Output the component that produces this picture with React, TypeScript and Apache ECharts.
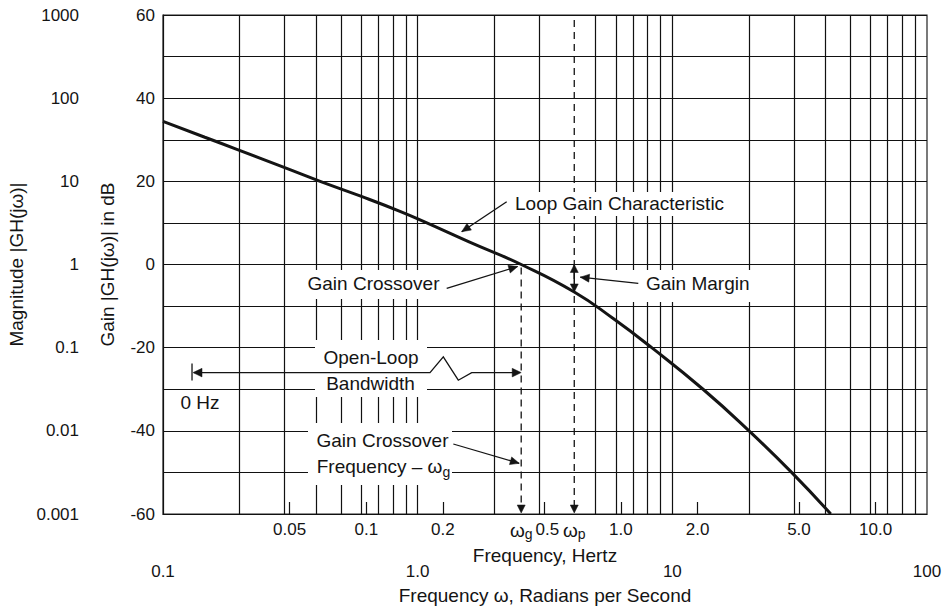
import React, { useEffect, useRef } from 'react';
import * as echarts from 'echarts';

const FONT = '"Liberation Sans", Arial, Helvetica, sans-serif';
const INK = '#141414';
const GRID_INK = '#111111';
const TWO_PI = 2 * Math.PI;

// Loop gain characteristic (frequency in rad/s, gain in dB)
const omega = [0.1, 0.146, 0.195, 0.306, 0.414, 0.594, 0.852, 1.07, 1.6, 2.55, 4.12, 5.86, 8.3, 13.2, 20.0, 29.4, 41.9];
const gainDb = [34.4, 30.6, 27.7, 23.1, 20.0, 16.5, 12.8, 10.2, 5.4, 0, -6.6, -13.0, -20, -30, -40, -50, -60];

// Marked frequencies
const omegaG = 2.55; // gain crossover
const omegaP = 4.12; // phase crossover
const gainMarginDb = -6.6;
const bandwidthStartOmega = 0.13;
const bandwidthDb = -26;

// Axes
const radGridValues = [0.2, 0.3, 0.4, 0.5, 0.6, 0.7, 0.8, 0.9, 1, 2, 3, 5, 6, 7, 8, 9, 10, 20, 30, 40, 50, 60, 70, 80, 90];
const radLabelValues = [0.1, 1, 10, 100];
const radLabelTexts = ['0.1', '1.0', '10', '100'];
const hzTickValues = [0.05, 0.1, 0.2, 0.5, 1, 2, 5, 10];
const hzTickLabels = ['0.05', '0.1', '0.2', '0.5', '1.0', '2.0', '5.0', '10.0'];
const dbTicks = [60, 40, 20, 0, -20, -40, -60];
const dbLabels = ['60', '40', '20', '0', '-20', '-40', '-60'];
const magnitudeLabels = ['1000', '100', '10', '1', '0.1', '0.01', '0.001'];

const near = (a: number, b: number) => Math.abs(a - b) <= Math.abs(b) * 1e-4;

function buildOption(): any {
  return {
    animation: false,
    backgroundColor: '#ffffff',
    textStyle: { fontFamily: FONT, color: INK },
    grid: {
      left: 163, right: 16, top: 15, bottom: 98,
      show: true, borderColor: '#222', borderWidth: 1.2, backgroundColor: 'transparent',
      containLabel: false, outerBoundsMode: 'none',
    },
    xAxis: [
      {
        type: 'log', logBase: 10, min: 0.1, max: 100, position: 'bottom', gridIndex: 0,
        axisLine: { show: true, onZero: false, lineStyle: { color: GRID_INK, width: 1.2 } },
        axisTick: { show: false, customValues: radGridValues },
        splitLine: { show: true, lineStyle: { color: GRID_INK, width: 1.2 } },
        minorTick: { show: false }, minorSplitLine: { show: false },
        axisLabel: {
          customValues: radLabelValues, margin: 49, fontSize: 17, color: INK, fontFamily: FONT,
          formatter: (v: number) => {
            const i = radLabelValues.findIndex((t) => near(v, t));
            return i >= 0 ? radLabelTexts[i] : '';
          },
        },
        name: 'Frequency \u03c9, Radians per Second', nameLocation: 'middle', nameGap: 72,
        nameTextStyle: { fontSize: 19, color: INK, fontFamily: FONT },
      },
      {
        type: 'log', logBase: 10, min: 0.1 / TWO_PI, max: 100 / TWO_PI, position: 'bottom', gridIndex: 0,
        axisLine: { show: false, onZero: false },
        axisTick: { show: true, inside: true, length: 12, customValues: hzTickValues, lineStyle: { color: GRID_INK, width: 1.2 } },
        splitLine: { show: false },
        minorTick: { show: false }, minorSplitLine: { show: false },
        axisLabel: {
          customValues: [0.05, 0.1, 0.2, omegaG / TWO_PI, 0.5, omegaP / TWO_PI, 1, 2, 5, 10],
          margin: 7, fontSize: 17, color: INK, fontFamily: FONT,
          formatter: (v: number) => {
            if (near(v, omegaG / TWO_PI)) return '{w|\u03c9}{s|g}';
            if (near(v, omegaP / TWO_PI)) return '{w|\u03c9}{s|p}';
            const i = hzTickValues.findIndex((t) => near(v, t));
            if (i < 0) return '';
            return near(v, 0.5) ? '{r|' + hzTickLabels[i] + '}' : hzTickLabels[i];
          },
          rich: {
            w: { fontSize: 19, lineHeight: 10, verticalAlign: 'top', color: INK, fontFamily: FONT },
            s: { fontSize: 14, lineHeight: 20, verticalAlign: 'bottom', color: INK, fontFamily: FONT },
            r: { fontSize: 17, padding: [0, 0, 0, 6], color: INK, fontFamily: FONT },
          },
        },
        name: 'Frequency, Hertz', nameLocation: 'middle', nameGap: 27.5,
        nameTextStyle: { fontSize: 19, color: INK, fontFamily: FONT },
      },
    ],
    yAxis: [
      {
        type: 'value', min: -60, max: 60, interval: 10, position: 'left', gridIndex: 0,
        axisLine: { show: true, onZero: false, lineStyle: { color: GRID_INK, width: 1.2 } },
        axisTick: { show: false },
        splitLine: { show: true, lineStyle: { color: GRID_INK, width: 1.2 } },
        axisLabel: {
          margin: 8, fontSize: 17, color: INK, fontFamily: FONT,
          formatter: (v: number) => {
            const i = dbTicks.indexOf(v);
            return i >= 0 ? dbLabels[i] : '';
          },
        },
        name: 'Gain |GH(j\u03c9)| in dB', nameLocation: 'middle', nameGap: 46.5,
        nameTextStyle: { fontSize: 19, color: INK, fontFamily: FONT },
      },
      {
        type: 'value', min: -60, max: 60, interval: 20, position: 'left', offset: 76, gridIndex: 0,
        axisLine: { show: false, onZero: false }, axisTick: { show: false }, splitLine: { show: false },
        axisLabel: {
          margin: 8, fontSize: 17, color: INK, fontFamily: FONT,
          formatter: (v: number) => {
            const i = dbTicks.indexOf(v);
            return i >= 0 ? magnitudeLabels[i] : '';
          },
        },
        name: 'Magnitude |GH(j\u03c9)|', nameLocation: 'middle', nameGap: 51.5,
        nameTextStyle: { fontSize: 19, color: INK, fontFamily: FONT },
      },
    ],
    series: [
      {
        type: 'line', xAxisIndex: 0, yAxisIndex: 0, z: 3,
        data: omega.map((w, i) => [w, gainDb[i]]),
        showSymbol: false, smooth: 0.5, silent: true,
        lineStyle: { color: INK, width: 3 },
      },
    ],
  };
}

export default function App() {
  const ref = useRef<HTMLDivElement>(null);

  useEffect(() => {
    document.body.style.margin = '0';
    const chart = echarts.init(ref.current!, null, { renderer: 'svg' });
    chart.setOption(buildOption());

    const toPx = (x: number, y: number) => chart.convertToPixel({ seriesIndex: 0 }, [x, y]) as number[];

    const line = (x1: number, y1: number, x2: number, y2: number, dash?: number[], z = 11, w = 1.3) => ({
      type: 'line', z, silent: true,
      shape: { x1, y1, x2, y2 },
      style: { stroke: INK, lineWidth: w, lineDash: dash, fill: null },
    });
    const head = (tx: number, ty: number, fx: number, fy: number, len = 9, hw = 4) => {
      const dx = tx - fx, dy = ty - fy;
      const d = Math.hypot(dx, dy) || 1;
      const ux = dx / d, uy = dy / d;
      const bx = tx - ux * len, by = ty - uy * len;
      return {
        type: 'polygon', z: 12, silent: true,
        shape: { points: [[tx, ty], [bx - uy * hw, by + ux * hw], [bx + uy * hw, by - ux * hw]] },
        style: { fill: INK, stroke: INK, lineWidth: 0.5 },
      };
    };
    const arrow = (fx: number, fy: number, tx: number, ty: number) => [line(fx, fy, tx, ty), head(tx, ty, fx, fy)];
    const box = (x1: number, y1: number, x2: number, y2: number) => ({
      type: 'rect', z: 10, silent: true,
      shape: { x: x1, y: y1, width: x2 - x1, height: y2 - y1 },
      style: { fill: '#ffffff', stroke: null },
    });
    const text = (t: string, x: number, y: number, align = 'left', rich?: any) => ({
      type: 'text', z: 13, silent: true, x, y,
      style: {
        text: t, fill: INK, fontSize: 19, fontFamily: FONT,
        align, verticalAlign: 'middle', textAlign: align, textVerticalAlign: 'middle',
        rich,
      },
    });

    const g0 = toPx(omegaG, 0);
    const gB = toPx(omegaG, -60);
    const p0 = toPx(omegaP, 0);
    const pT = toPx(omegaP, 60);
    const pB = toPx(omegaP, -60);
    const pM = toPx(omegaP, gainMarginDb);
    const bwL = toPx(bandwidthStartOmega, bandwidthDb);
    const bwR = toPx(omegaG, bandwidthDb);
    const by = bwL[1];

    const elements: any[] = [
      // white label backgrounds (hide grid lines)
      box(507, 192, 736, 216),
      box(606, 270, 762, 302),
      box(300, 270, 448, 299),
      box(315, 340, 427, 397),
      box(308, 423, 452, 485),

      // phase crossover dashed line (under label boxes)
      line(pT[0], pT[1] + 5, pB[0], pB[1] - 8, [7, 5], 5),
      head(pB[0], pB[1] - 1, pB[0], pB[1] - 20, 8, 4),
      // gain crossover dashed line
      line(g0[0], g0[1] + 3, gB[0], gB[1] - 8, [7, 5], 5),
      head(gB[0], gB[1] - 1, gB[0], gB[1] - 20, 8, 4),

      // gain margin double arrow
      line(p0[0], p0[1], pM[0], pM[1], undefined, 11, 1.5),
      head(p0[0], p0[1], p0[0], p0[1] + 20, 8, 4),
      head(pM[0], pM[1], pM[0], pM[1] - 20, 8, 4),

      // open-loop bandwidth arrow with break
      line(bwL[0], by - 9, bwL[0], by + 8),
      {
        type: 'polyline', z: 11, silent: true,
        shape: { points: [[bwL[0] + 2, by], [430, by], [443.3, by - 15.7], [458.3, by + 7.6], [471.7, by], [bwR[0] - 2, by]] },
        style: { stroke: INK, lineWidth: 1.3, fill: null },
      },
      head(bwL[0] + 1, by, bwL[0] + 20, by, 9, 4.3),
      head(bwR[0], by, bwR[0] - 20, by, 9, 4.3),

      // annotation arrows
      ...arrow(506.7, 201.7, 461.7, 231.7),
      ...arrow(446.7, 288.3, g0[0] - 3.5, g0[1] + 2),
      ...arrow(638.3, 283.3, pM[0] + 6, (p0[1] + pM[1]) / 2 - 1),
      ...arrow(453.3, 444, g0[0] - 2, 463.3),

      // annotation texts
      text('Loop Gain Characteristic', 515, 203),
      text('Gain Crossover', 439.5, 283, 'right'),
      text('Gain Margin', 646, 283),
      text('Open-Loop', 371, 357.5, 'center'),
      text('Bandwidth', 370.5, 383, 'center'),
      text('0 Hz', 180.5, 402),
      text('Gain Crossover', 316.5, 440.7),
      text('{a|Frequency \u2013 \u03c9}{s|g}', 316.7, 466.7, 'left', {
        a: { fontSize: 19, lineHeight: 24, fontFamily: FONT, color: INK },
        s: { fontSize: 14, lineHeight: 10, verticalAlign: 'bottom', fontFamily: FONT, color: INK },
      }),
    ];

    chart.setOption({ graphic: { elements } });

    return () => chart.dispose();
  }, []);

  return (
    <div
      ref={ref}
      style={{ position: 'absolute', left: 0, top: 0, width: 943, height: 612, background: '#fff' }}
    />
  );
}
